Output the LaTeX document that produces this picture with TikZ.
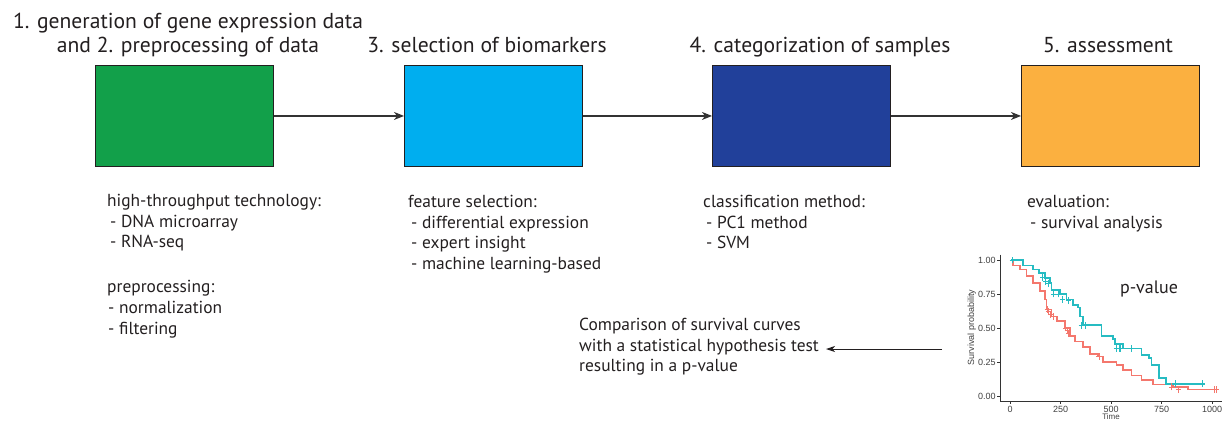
\documentclass[tikz,border=0pt]{standalone}
\usepackage{fontspec}
\setmainfont{PT Sans}
\newfontfamily\plotfont{Liberation Sans}
\usetikzlibrary{arrows.meta}

\definecolor{cgreen}{HTML}{12A04A}
\definecolor{cblue}{HTML}{00AEEF}
\definecolor{cnavy}{HTML}{21409A}
\definecolor{corange}{HTML}{FBB040}
\definecolor{cteal}{HTML}{26BCC2}
\definecolor{cred}{HTML}{F4776D}
\definecolor{ink}{HTML}{231F20}
\definecolor{arrowgray}{HTML}{333333}

\tikzset{
  stagebox/.style={draw=ink, line width=0.9pt, minimum width=178pt, minimum height=101pt, inner sep=0pt},
  stagetitle/.style={font=\fontsize{21.6}{24}\selectfont, text=ink, inner sep=0pt, align=center},
  bodytext/.style={font=\fontsize{17.4}{20.6}\selectfont, text=ink, inner sep=0pt, align=left, anchor=north west},
  flow/.style={draw=arrowgray, line width=1.3pt, -{Stealth[length=10pt,width=8pt,inset=3pt]}},
  tick/.style={font=\plotfont\fontsize{9}{10}\selectfont, text=black!75, inner sep=0pt},
  kmline/.style={line width=1.7pt, line join=miter},
  censor/.style={line width=0.7pt},
}

\begin{document}
\begin{tikzpicture}[x=1pt, y=-1pt]
\useasboundingbox (0,0) rectangle (1223,421);

% stage boxes
\node[stagebox, fill=cgreen,  anchor=north west] (s1) at (95,65)  {};
\node[stagebox, fill=cblue,   anchor=north west] (s2) at (404,65) {};
\node[stagebox, fill=cnavy,   anchor=north west] (s3) at (712,65) {};
\node[stagebox, fill=corange, anchor=north west] (s4) at (1021,65) {};

\draw[flow] (s1.east) -- (s2.west);
\draw[flow] (s2.east) -- (s3.west);
\draw[flow] (s3.east) -- (s4.west);

% stage titles
\node[stagetitle, anchor=base] (t1a) at (188,28) {1. generation of gene expression data};
\node[stagetitle, anchor=base] (t1b) at (188,52) {and 2. preprocessing of data};
\node[stagetitle, anchor=base] (t2) at (487,52) {3. selection of biomarkers};
\node[stagetitle, anchor=base] (t3) at (820,52) {4. categorization of samples};
\node[stagetitle, anchor=base] (t4) at (1108,52) {5. assessment};

% stage descriptions
\node[bodytext] (d1) at (107,194) {high-throughput technology:\\
  \hspace*{3pt}- DNA microarray\\
  \hspace*{3pt}- RNA-seq\\[24.5pt]
  preprocessing:\\
  \hspace*{1pt}- normalization\\
  \hspace*{1pt}- filtering};
\node[bodytext] (d2) at (408,195) {feature selection:\\
  \hspace*{3pt}- differential expression\\
  \hspace*{3pt}- expert insight\\
  \hspace*{3pt}- machine learning-based};
\node[bodytext] (d3) at (703,195) {classification method:\\
  \hspace*{3pt}- PC1 method\\
  \hspace*{3pt}- SVM};
\node[bodytext] (d4) at (1027,195) {evaluation:\\
  \hspace*{3pt}- survival analysis};

% comparison note and its arrow
\node[bodytext] (cmp) at (579,318) {Comparison of survival curves\\
  with a statistical hypothesis test\\
  resulting in a p-value};
\coordinate (kmleft) at (942,349);
\coordinate (cmptip) at (826,349);
\draw[draw=ink, line width=1pt, -{Stealth[length=9pt,width=6pt,inset=2.5pt]}] (kmleft) -- (cmptip);

% Kaplan--Meier plot
\begin{scope}[shift={(1010,396)}, x=0.202pt, y=136pt]
  % axes
  \draw[black!80, line width=0.6pt] (-49,1.04) -- (-49,-0.04) -- (1050,-0.04);
  \foreach \p/\l in {0/0.00,0.25/0.25,0.5/0.50,0.75/0.75,1/1.00} {
    \draw[black!80, line width=0.5pt] (-49,\p) -- (-64,\p);
    \node[tick, anchor=east] at (-70,\p) {\l};
  }
  \foreach \t in {0,250,500,750,1000} {
    \draw[black!80, line width=0.5pt] (\t,-0.04) -- (\t,-0.062);
    \node[tick, anchor=north] at (\t,-0.07) {\t};
  }
  \node[tick, font=\plotfont\fontsize{8}{9}\selectfont, anchor=north] (xlab) at (500,-0.125) {Time};
  \node[tick, rotate=90, anchor=south] (ylab) at (-168,0.505) {Survival probability};
  \node[font=\fontsize{18}{20}\selectfont, text=ink, inner sep=0pt] (pval) at (688,0.79) {p-value};

  % group 2 (red)
  \draw[cred, kmline] plot[const plot] coordinates {
    (5,1.0) (16,0.96) (49,0.93) (82,0.88) (115,0.83) (148,0.77)
    (173,0.71) (181,0.635) (206,0.585) (231,0.55) (272,0.50)
    (297,0.44) (321,0.40) (362,0.36) (395,0.31) (437,0.29)
    (461,0.25) (527,0.23) (560,0.19) (601,0.15) (651,0.12)
    (708,0.084) (807,0.067) (881,0.047) (1021,0.047)};
  % group 1 (teal)
  \draw[cteal, kmline] plot[const plot] coordinates {
    (5,1.0) (63,0.96) (115,0.93) (145,0.906) (173,0.87) (198,0.83)
    (206,0.78) (247,0.75) (280,0.71) (313,0.67) (338,0.65)
    (346,0.585) (362,0.52) (428,0.52) (453,0.44) (511,0.42)
    (519,0.38) (560,0.35) (651,0.30) (689,0.28) (700,0.23)
    (738,0.13) (771,0.09) (964,0.09)};

  % censoring marks
  \foreach \t/\p in {183/0.635,190/0.62,200/0.60,215/0.585,275/0.50,282/0.48,
                     290/0.46,440/0.29,800/0.067,1010/0.047,1021/0.047,835/0.047}
    \draw[cred, censor] (\t-12,\p) -- (\t+12,\p) (\t,\p-0.025) -- (\t,\p+0.025);
  \foreach \t/\p in {10/1.0,160/0.87,175/0.84,190/0.83,215/0.75,240/0.75,260/0.71,
                     290/0.70,352/0.52,372/0.52,525/0.35,540/0.35,548/0.35,
                     600/0.35,820/0.09,950/0.09}
    \draw[cteal, censor] (\t-12,\p) -- (\t+12,\p) (\t,\p-0.025) -- (\t,\p+0.025);
\end{scope}
\end{tikzpicture}
\end{document}
